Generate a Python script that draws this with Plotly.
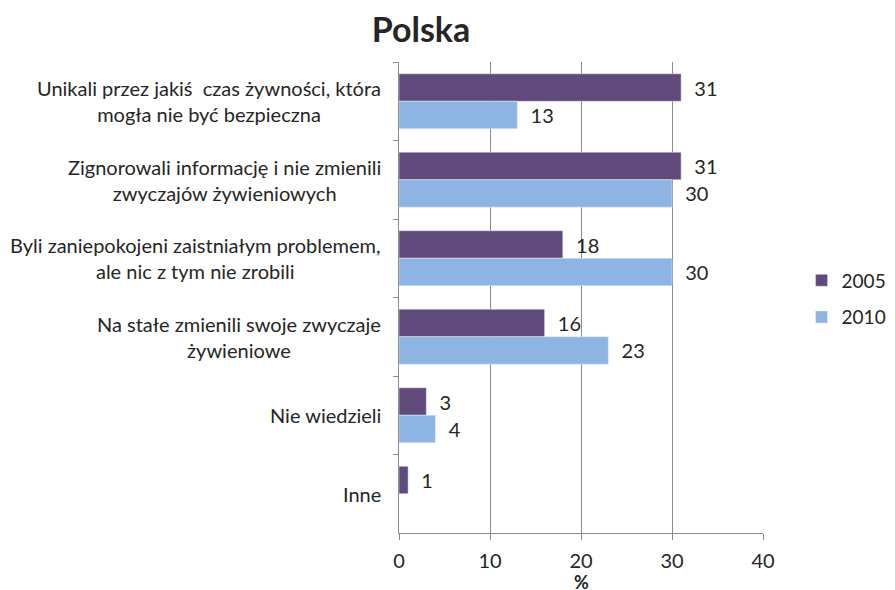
import plotly.graph_objects as go

# dane
categories = [
    "Unikali przez jakiś  czas żywności, która<br>mogła nie być bezpieczna",
    "Zignorowali informację i nie zmienili<br>zwyczajów żywieniowych",
    "Byli zaniepokojeni zaistniałym problemem,<br>ale nic z tym nie zrobili",
    "Na stałe zmienili swoje zwyczaje<br>żywieniowe",
    "Nie wiedzieli",
    "Inne",
]
cat_ids = ["c1", "c2", "c3", "c4", "c5", "c6"]
values_2005 = [31, 31, 18, 16, 3, 1]
values_2010 = [13, 30, 30, 23, 4, None]
x_ticks = [0, 10, 20, 30, 40]

FONT = "Lato, 'Liberation Sans', sans-serif"
TXT = "#262626"
GRID = "#8C8C8C"
FS = 20

fig = go.Figure()
fig.add_trace(go.Bar(
    y=cat_ids, x=values_2005, orientation="h", name="2005", legendgroup="a",
    marker=dict(color="#604A7B"),
    texttemplate="\u00a0\u00a0%{x}", textposition="outside", cliponaxis=False,
    textfont=dict(size=FS, color=TXT, family=FONT),
))
fig.add_trace(go.Bar(
    y=cat_ids, x=values_2010, orientation="h", name="2010", legendgroup="b",
    marker=dict(color="#8EB4E3"),
    texttemplate="\u00a0\u00a0%{x}", textposition="outside", cliponaxis=False,
    textfont=dict(size=FS, color=TXT, family=FONT),
))

# etykiety kategorii wyśrodkowane jak w Excelu
for cid, label in zip(cat_ids, categories):
    fig.add_annotation(
        x=-0.044, xref="paper", y=cid, yref="y",
        text=label, showarrow=False, xanchor="right", align="center",
        font=dict(size=FS, color=TXT, family=FONT),
    )

# tytuł osi X
fig.add_annotation(
    x=0.5, xref="paper", y=-0.103, yref="paper", yanchor="middle",
    text="<b>%</b>", showarrow=False, font=dict(size=18, color=TXT, family=FONT),
)

# strona ma 8px marginesu, więc figura jest o 8px mniejsza
fig.update_layout(
    width=887, height=582,
    paper_bgcolor="white", plot_bgcolor="white",
    margin=dict(l=391, r=132, t=54, b=57, autoexpand=False),
    barmode="group", bargap=0.3, bargroupgap=0,
    title=dict(text="<b>Polska</b>", x=413 / 887, xanchor="center", y=0.962, yanchor="middle",
               font=dict(size=34, color=TXT, family=FONT)),
    font=dict(family=FONT, color=TXT, size=FS),
    legend=dict(x=1.106, y=0.497, xanchor="left", yanchor="middle", traceorder="grouped",
                tracegroupgap=9, font=dict(size=19, color=TXT, family=FONT), itemwidth=30),
    xaxis=dict(
        range=[0, 40], tickvals=x_ticks, showgrid=True, gridcolor=GRID, gridwidth=1,
        showline=True, linecolor=GRID, linewidth=1,
        ticks="outside", ticklen=6, tickcolor=GRID, ticklabelstandoff=4,
        tickfont=dict(size=FS, color=TXT), zeroline=False,
    ),
    yaxis=dict(
        autorange="reversed", showticklabels=False,
        showline=True, linecolor=GRID, linewidth=1,
        ticks="outside", ticklen=5, tickcolor=GRID, tickson="boundaries",
        showgrid=False,
    ),
)

fig.write_html("out.html")
